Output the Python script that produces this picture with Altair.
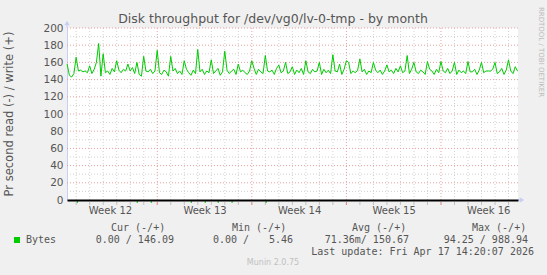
import altair as alt
import pandas as pd

# ---- data ----
# write throughput, one sample every 4 hours, starting at day 0.33 (day 0 = Monday of Week 12)
write_rows = [
    [158, 145, 143, 147, 166, 150],
    [151, 149, 150, 148, 156, 147],
    [152, 160, 182, 144, 170, 148],
    [150, 146, 153, 149, 162, 151],
    [148, 152, 150, 158, 150, 154],
    [147, 160, 146, 144, 167, 150],
    [149, 152, 147, 150, 174, 148],
    [146, 151, 149, 144, 167, 150],
    [153, 147, 150, 146, 162, 152],
    [148, 145, 151, 147, 175, 149],
    [152, 146, 150, 148, 163, 147],
    [150, 153, 145, 149, 173, 151],
    [147, 150, 152, 146, 158, 149],
    [151, 148, 146, 150, 162, 153],
    [146, 152, 149, 147, 168, 150],
    [149, 151, 146, 153, 157, 148],
    [150, 160, 147, 149, 155, 146],
    [151, 148, 153, 146, 162, 149],
    [147, 152, 149, 150, 160, 146],
    [152, 148, 151, 147, 169, 150],
    [149, 158, 146, 152, 162, 160],
    [147, 150, 148, 151, 164, 149],
    [152, 146, 150, 148, 160, 151],
    [148, 151, 146, 150, 157, 149],
    [151, 147, 153, 149, 156, 148],
    [150, 168, 147, 152, 160, 149],
    [147, 151, 149, 146, 161, 152],
    [150, 146, 152, 148, 161, 150],
    [148, 153, 147, 150, 160, 146],
    [151, 148, 150, 147, 161, 149],
    [149, 152, 146, 151, 160, 148],
    [150, 150, 150, 152, 160, 147],
    [149, 153, 146, 151, 163, 150],
    [147, 155, 150],
]
start_day = 0.33
step_days = 1 / 6
write_values = [v for row in write_rows for v in row]
write_days = [start_day + i * step_days for i in range(len(write_values))]

read_spike_days = [1.09, 5.52, 6.56, 9.52, 10.55, 11.51, 12.54, 15.06]

x_domain = [0.32, 33.7]
week_starts = [7, 14, 21, 28]
day_lines = [d for d in range(1, 34) if d not in week_starts]
week_mids = [3.5, 10.5, 17.5, 24.5, 31.5]
first_week = 12
y_major = [20, 40, 60, 80, 100, 120, 140, 160, 180, 200]
y_minor = [10, 30, 50, 70, 90, 110, 130, 150, 170, 190]

title = "Disk throughput for /dev/vg0/lv-0-tmp - by month"
y_title = "Pr second read (-) / write (+)"
legend_name = "Bytes"
headers = ["Cur (-/+)", "Min (-/+)", "Avg (-/+)", "Max (-/+)"]
cur_txt = "0.00 / 146.09"
min_a, min_b = "0.00 /", "5.46"
avg_txt = "71.36m/ 150.67"
max_txt = "94.25 / 988.94"
last_update = "Last update: Fri Apr 17 14:20:07 2026"
munin_ver = "Munin 2.0.75"
rrd_credit = "RRDTOOL / TOBI OETIKER"

# ---- layout ----
W, H = 451, 172
PL, PT = 67, 28
GREEN = "#00cc00"
TXT = "#555555"
AXC = "#c8cdf5"
FONT = "DejaVu Sans"
MONO = "DejaVu Sans Mono"

xs = alt.Scale(domain=x_domain, nice=False, zero=False)
ys = alt.Scale(domain=[0, 200], nice=False)

X_AXIS = alt.Axis(
    values=week_mids,
    labelExpr=f"'Week ' + ({first_week} + floor(datum.value / 7))",
    grid=False,
    ticks=False,
    domain=True,
    domainColor="#000000",
    domainWidth=2,
    zindex=1,
    labelFont=FONT,
    labelFontSize=10,
    labelColor=TXT,
    labelPadding=5,
    title=None,
)
Y_AXIS = alt.Axis(
    values=[0] + y_major,
    grid=False,
    ticks=False,
    domain=True,
    domainColor=AXC,
    labelFont=FONT,
    labelFontSize=10.5,
    labelColor=TXT,
    labelPadding=4,
    title=None,
)


def X(f):
    return alt.X(f, scale=xs, axis=X_AXIS, title=None)


def Y(f):
    return alt.Y(f, scale=ys, axis=Y_AXIS, title=None)


write_df = pd.DataFrame({"day": write_days, "v": write_values})
one = pd.DataFrame({"a": [0]})

vminor = alt.Chart(pd.DataFrame({"d": day_lines})).mark_rule(
    color="#d2d2d2", strokeDash=[1, 2], strokeWidth=1
).encode(x=X("d:Q"))
vmajor = alt.Chart(pd.DataFrame({"d": week_starts})).mark_rule(
    color="#eaa0a0", strokeDash=[1, 2], strokeWidth=1
).encode(x=X("d:Q"))
hminor = alt.Chart(pd.DataFrame({"v": y_minor})).mark_rule(
    color="#d2d2d2", strokeDash=[1, 2], strokeWidth=1
).encode(y=Y("v:Q"))
hmajor = alt.Chart(pd.DataFrame({"v": y_major})).mark_rule(
    color="#eaa0a0", strokeDash=[1, 2], strokeWidth=1
).encode(y=Y("v:Q"))

xticks_minor = alt.Chart(pd.DataFrame({"d": day_lines})).mark_rule(
    color="#c0c0c0", strokeWidth=1
).encode(x=X("d:Q"), y=alt.value(H + 2), y2=alt.value(H + 5))
xticks_major = alt.Chart(pd.DataFrame({"d": week_starts})).mark_rule(
    color="#e08080", strokeWidth=1
).encode(x=X("d:Q"), y=alt.value(H + 2), y2=alt.value(H + 5))

line = alt.Chart(write_df).mark_line(color=GREEN, strokeWidth=1, interpolate="linear").encode(
    x=X("day:Q"), y=Y("v:Q")
)

read_marks = alt.Chart(pd.DataFrame({"d": read_spike_days})).mark_rule(
    color=GREEN, strokeWidth=1
).encode(x=X("d:Q"), y=alt.value(H), y2=alt.value(H + 3))

# axis extensions with arrows
y_ext = alt.Chart(one).mark_rule(color=AXC, strokeWidth=1).encode(
    x=alt.value(0), y=alt.value(-6), y2=alt.value(0)
)
x_ext = alt.Chart(one).mark_rule(color=AXC, strokeWidth=1).encode(
    x=alt.value(W), x2=alt.value(W + 4), y=alt.value(H)
)
arrow_up = alt.Chart(one).mark_point(
    shape="triangle-up", filled=True, color=AXC, size=28, opacity=1
).encode(x=alt.value(0), y=alt.value(-5))
arrow_right = alt.Chart(one).mark_point(
    shape="triangle-right", filled=True, color=AXC, size=28, opacity=1
).encode(x=alt.value(W + 4), y=alt.value(H))


def txt(s, x, y, font=MONO, size=10, color=TXT, align="left", angle=0):
    return alt.Chart(one).mark_text(
        text=s, font=font, fontSize=size, color=color, align=align, baseline="middle", angle=angle
    ).encode(x=alt.value(x - PL), y=alt.value(y - PT))


texts = [
    txt(title, 273, 19, font=FONT, size=12.5, align="center"),
    txt(y_title, 10, 114, font=FONT, size=11.5, align="center", angle=270),
    txt(rrd_credit, 541, 52, font=FONT, size=7, color="#bbbbbb", align="center", angle=90),
    txt(headers[0], 111, 227.5),
    txt(headers[1], 232, 227.5),
    txt(headers[2], 352, 227.5),
    txt(headers[3], 472, 227.5),
    txt(legend_name, 26, 240),
    txt(cur_txt, 174, 240, align="right"),
    txt(min_a, 213, 240),
    txt(min_b, 293, 240, align="right"),
    txt(avg_txt, 409, 240, align="right"),
    txt(max_txt, 528, 240, align="right"),
    txt(last_update, 534, 252, align="right"),
    txt(munin_ver, 273, 263, font=FONT, size=8, color="#c0c0c0", align="center"),
]

legend_sq = alt.Chart(one).mark_square(color=GREEN, size=36, opacity=1, filled=True).encode(
    x=alt.value(17 - PL), y=alt.value(240 - PT)
)

chart = alt.layer(
    hminor, vminor, hmajor, vmajor, xticks_minor, xticks_major, line,
    read_marks, y_ext, x_ext, arrow_up, arrow_right, legend_sq, *texts
).resolve_scale(x="shared", y="shared").properties(
    width=W,
    height=H,
    autosize=alt.AutoSizeParams(type="none"),
    padding={"left": PL, "top": PT, "right": 547 - PL - W, "bottom": 275 - PT - H},
    background="#f0f0f0",
).configure_view(fill="#ffffff", stroke=None)

chart.save("out.html", embed_options={"renderer": "svg", "actions": False})
